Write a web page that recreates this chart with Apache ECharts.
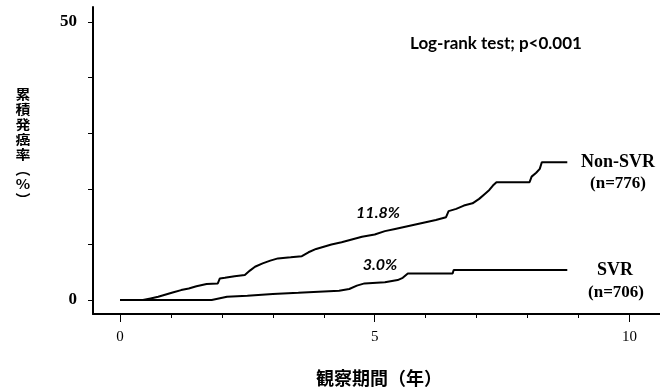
<!DOCTYPE html>
<html>
<head>
<meta charset="utf-8">
<script src="https://cdn.jsdelivr.net/npm/echarts@6/dist/echarts.min.js"></script>
<style>
  html, body { margin: 0; padding: 0; background: #fff; }
  #chart { width: 660px; height: 388px; }
</style>
</head>
<body>
<div id="chart"></div>
<script>
// 累積発癌率 (Kaplan-Meier), 観察期間 in years, rate in %
var nonSvrData = [
    [0, 0], [0.45, 0], [0.6, 0.3], [0.75, 0.6], [0.9, 1.0], [1.05, 1.4], [1.2, 1.8],
    [1.35, 2.1], [1.5, 2.5], [1.7, 2.9], [1.92, 3.0], [1.96, 3.9], [2.06, 4.0], [2.25, 4.3], [2.45, 4.5],
    [2.55, 5.3], [2.65, 6.0], [2.8, 6.6], [2.95, 7.1], [3.1, 7.5], [3.35, 7.7], [3.57, 7.9],
    [3.7, 8.6], [3.85, 9.2], [4.0, 9.6], [4.15, 10.0], [4.35, 10.4], [4.55, 10.9], [4.75, 11.4],
    [5.0, 11.8], [5.2, 12.4], [5.4, 12.8], [5.6, 13.2], [5.8, 13.6], [6.0, 14.0], [6.2, 14.4],
    [6.4, 14.9], [6.45, 16.0], [6.6, 16.4], [6.75, 17.0], [6.92, 17.4], [7.05, 18.2], [7.15, 19.0],
    [7.25, 19.8], [7.32, 20.6], [7.39, 21.2], [8.04, 21.2], [8.08, 22.2], [8.17, 22.9], [8.24, 23.6],
    [8.28, 24.8], [8.78, 24.8]
];
var svrData = [
    [0, 0], [1.8, 0], [2.1, 0.6], [2.5, 0.8], [3.0, 1.1], [3.5, 1.3], [3.9, 1.5], [4.3, 1.7],
    [4.5, 2.0], [4.65, 2.6], [4.8, 3.0], [5.2, 3.2], [5.45, 3.6], [5.55, 4.0], [5.65, 4.8],
    [6.53, 4.8], [6.55, 5.4], [8.78, 5.4]
];
var xTicks = [0, 1, 2, 3, 4, 5, 6, 7, 8, 9, 10];
var xMajor = [0, 5, 10];
var yTicks = [0, 10, 20, 30, 40, 50];
var yLabels = [0, 50];
var yName = ['累', '積', '発', '癌', '率', '︵', '%', '︶'];

var myChart = echarts.init(document.getElementById('chart'), null, { renderer: 'canvas' });

var serif = '"Liberation Serif", "DejaVu Serif", serif';
var jp = '"Noto Sans CJK JP", sans-serif';

var option = {
    backgroundColor: '#fff',
    animation: false,
    grid: { left: 93, right: 0, top: 7, bottom: 74 },
    xAxis: [{
        type: 'value',
        min: -0.53,
        max: 10.6,
        axisLine: { onZero: false, lineStyle: { color: '#000', width: 2 } },
        splitLine: { show: false },
        axisTick: { length: 4, customValues: xTicks, lineStyle: { color: '#000', width: 1 } },
        axisLabel: { customValues: xMajor, margin: 16, color: '#000', fontSize: 15, fontFamily: serif }
    }, {
        type: 'value',
        position: 'bottom',
        min: -0.53,
        max: 10.6,
        axisLine: { show: false, onZero: false },
        splitLine: { show: false },
        axisTick: { length: 8, customValues: xMajor, lineStyle: { color: '#000', width: 1 } },
        axisLabel: { show: false }
    }],
    yAxis: {
        type: 'value',
        min: -2.5,
        max: 52.7,
        axisLine: { onZero: false, lineStyle: { color: '#000', width: 2 } },
        splitLine: { show: false },
        axisTick: { length: 5, customValues: yTicks, lineStyle: { color: '#000', width: 1 } },
        axisLabel: { customValues: yLabels, margin: 16, color: '#000', fontSize: 17, fontWeight: 'bold', fontFamily: serif }
    },
    series: [{
        name: 'Non-SVR',
        type: 'line',
        data: nonSvrData,
        showSymbol: false,
        lineStyle: { color: '#000', width: 2 }
    }, {
        name: 'SVR',
        type: 'line',
        data: svrData,
        showSymbol: false,
        lineStyle: { color: '#000', width: 2 }
    }],
    graphic: [
        { type: 'text', x: 410, y: 44, style: { text: 'Log-rank test; p<0.001', font: 'bold 17px Lato, sans-serif', fill: '#000', verticalAlign: 'middle' } },
        { type: 'text', x: 378, y: 213, style: { text: '11.8%', font: 'italic bold 16px Lato, sans-serif', fill: '#000', align: 'center', verticalAlign: 'middle' } },
        { type: 'text', x: 380, y: 265, style: { text: '3.0%', font: 'italic bold 16px Lato, sans-serif', fill: '#000', align: 'center', verticalAlign: 'middle' } },
        { type: 'text', x: 618, y: 162, style: { text: 'Non-SVR', font: 'bold 18px ' + serif, fill: '#000', align: 'center', verticalAlign: 'middle' } },
        { type: 'text', x: 618, y: 184, style: { text: '(n=776)', font: 'bold 17px ' + serif, fill: '#000', align: 'center', verticalAlign: 'middle' } },
        { type: 'text', x: 615, y: 270, style: { text: 'SVR', font: 'bold 18px ' + serif, fill: '#000', align: 'center', verticalAlign: 'middle' } },
        { type: 'text', x: 616, y: 293, style: { text: '(n=706)', font: 'bold 17px ' + serif, fill: '#000', align: 'center', verticalAlign: 'middle' } },
        { type: 'text', x: 379, y: 378, style: { text: '観察期間（年）', font: 'bold 18px ' + jp, fill: '#000', align: 'center', verticalAlign: 'middle' } },
        { type: 'text', x: 23, y: 147, scaleX: 1.15, style: { text: yName.join('\n'), font: 'bold 13px ' + jp, lineHeight: 15, fill: '#000', align: 'center', verticalAlign: 'middle' } }
    ]
};
myChart.setOption(option);
</script>
</body>
</html>
